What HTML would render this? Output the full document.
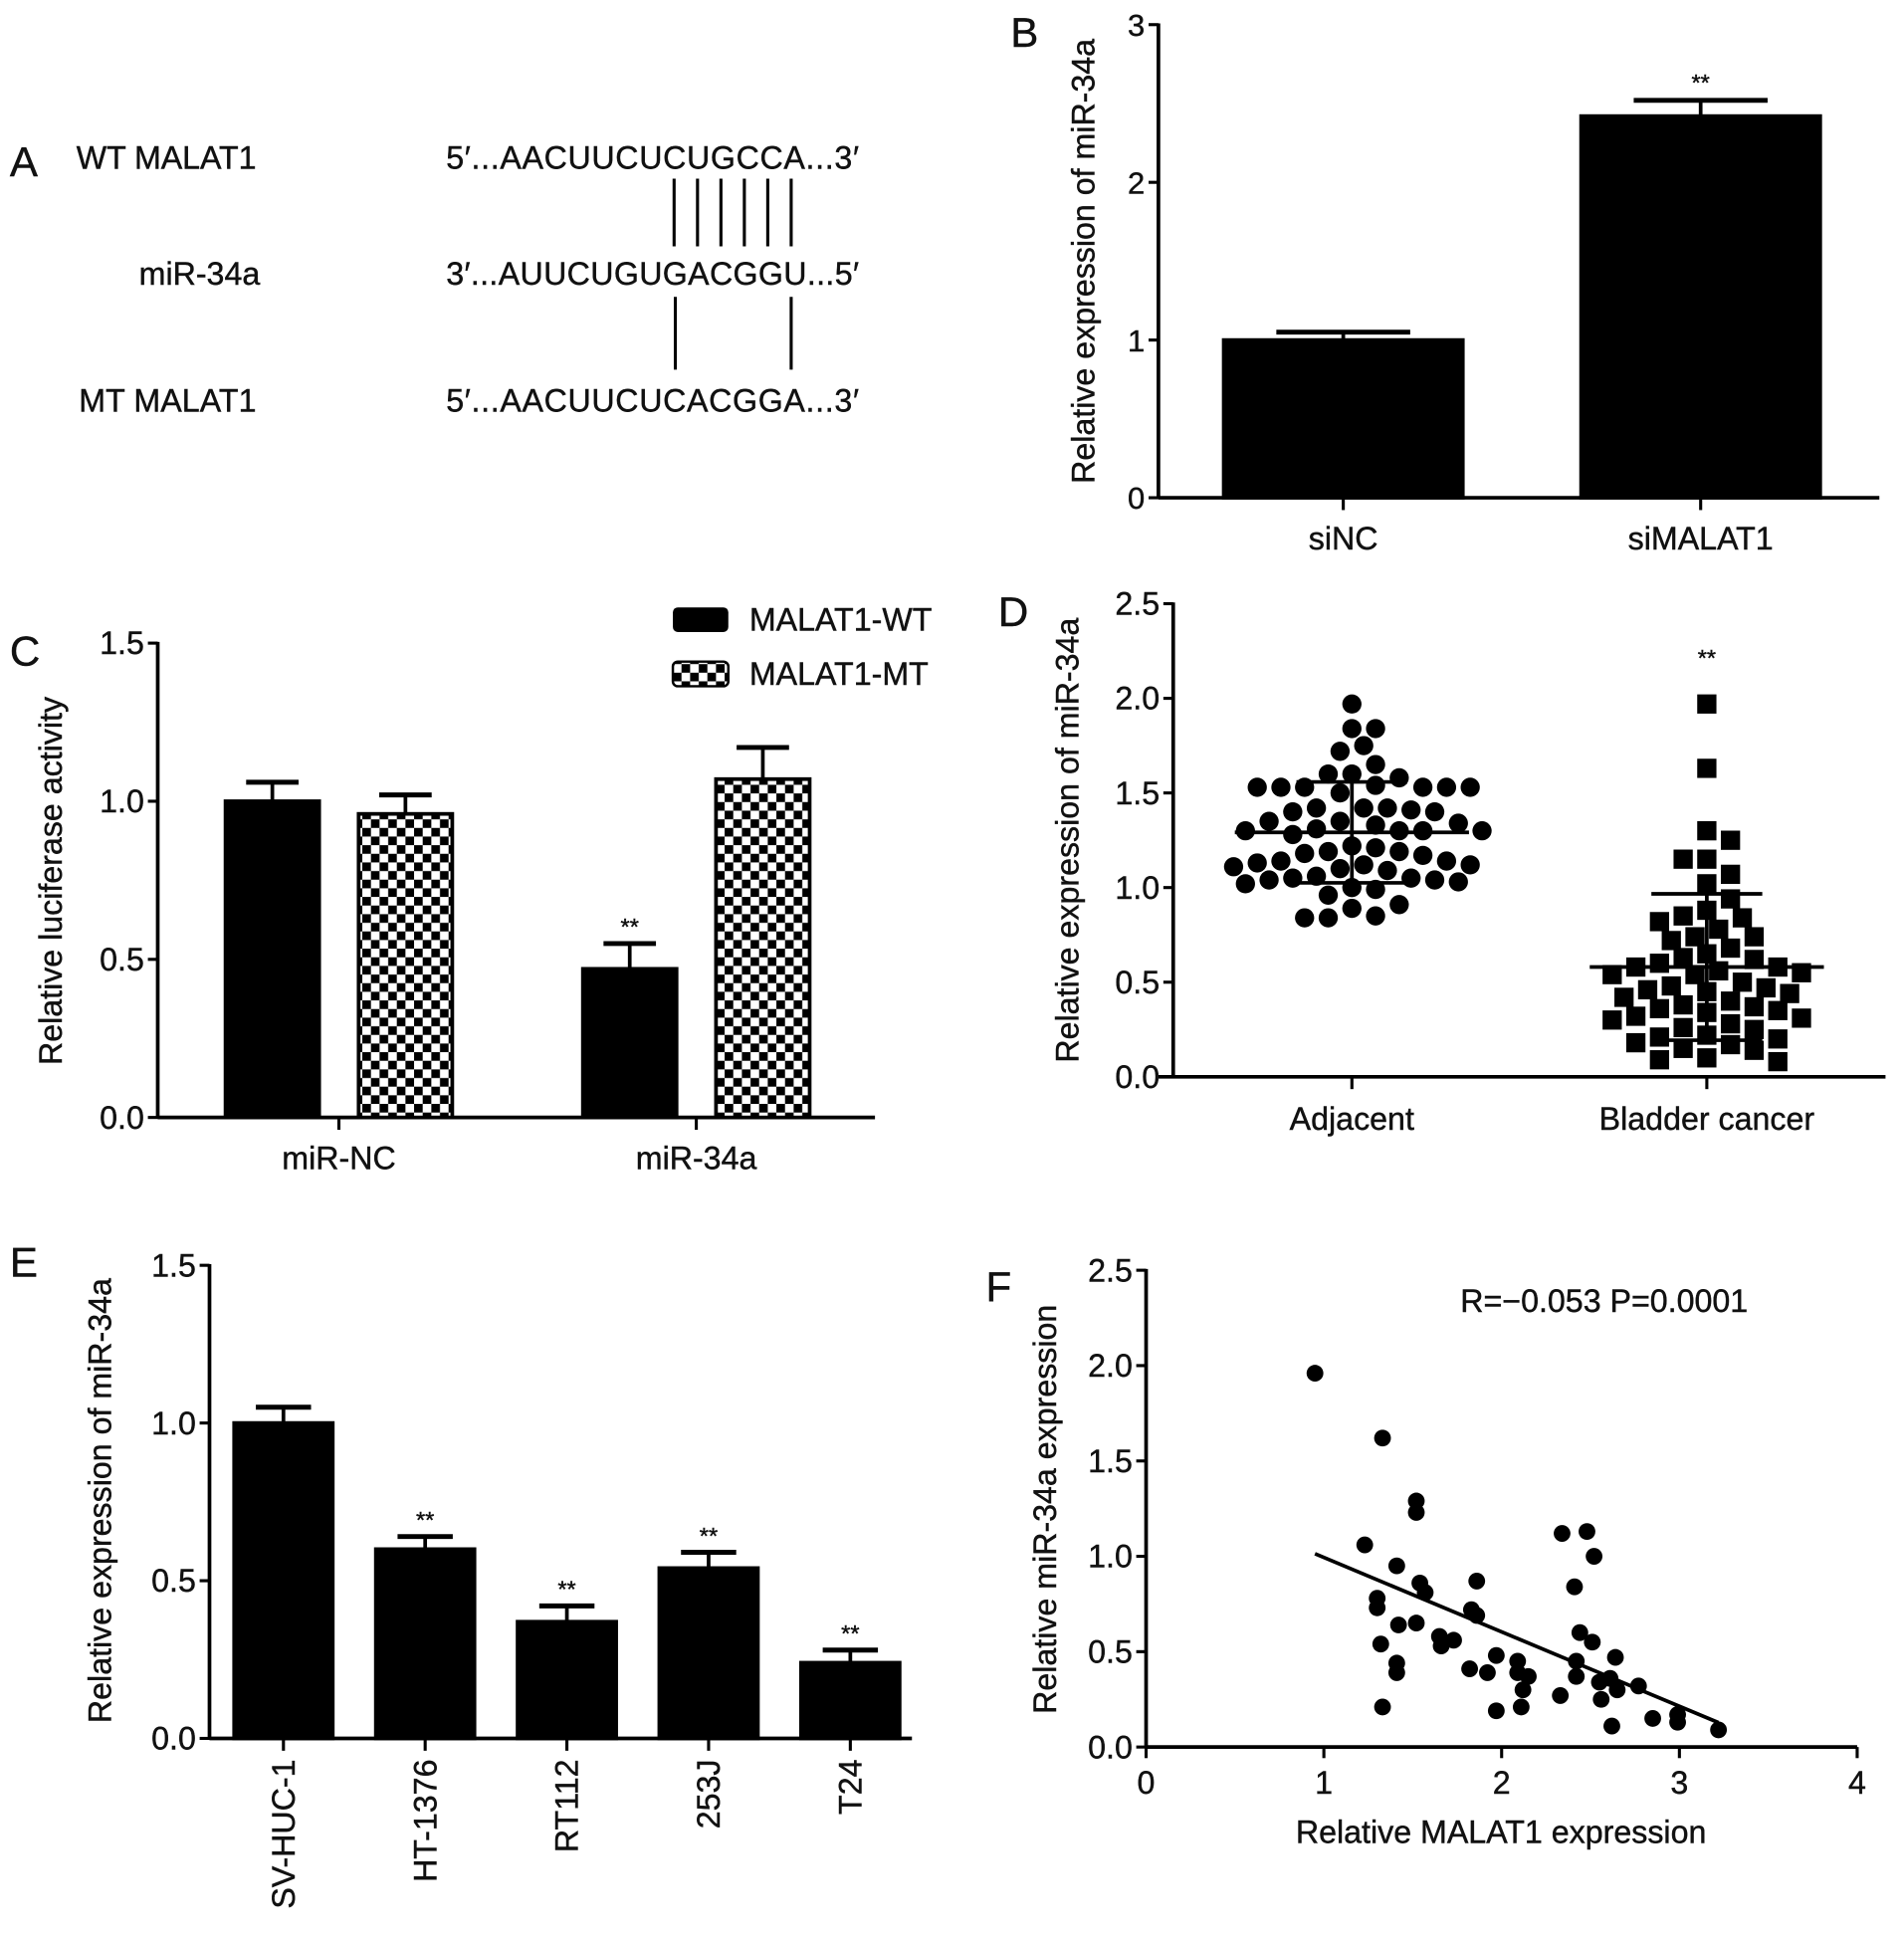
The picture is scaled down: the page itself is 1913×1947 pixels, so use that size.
<!DOCTYPE html>
<html><head><meta charset="utf-8"><style>
html,body{margin:0;padding:0;background:#fff}
svg{display:block}
text{font-family:"Liberation Sans",Arial,sans-serif;fill:#111;stroke:#111;stroke-width:0.35}
</style></head><body>
<svg id="fig" xmlns="http://www.w3.org/2000/svg" width="1913" height="1947" viewBox="0 0 1545 1573" preserveAspectRatio="none">
<defs>
<pattern id="chk" width="14" height="14" patternUnits="userSpaceOnUse">
<rect width="14" height="14" fill="#fff"/><rect width="7" height="7" fill="#000"/><rect x="7" y="7" width="7" height="7" fill="#000"/>
</pattern>
</defs>
<!-- Panel A -->
<g font-size="26">
<text x="8" y="143" font-size="34">A</text>
<text x="62" y="137" textLength="146">WT MALAT1</text>
<text x="211" y="231" text-anchor="end">miR-34a</text>
<text x="64" y="334" textLength="144">MT MALAT1</text>
<text x="362" y="137" textLength="335">5′...AACUUCUCUGCCA...3′</text>
<text x="362" y="231" textLength="335">3′...AUUCUGUGACGGU...5′</text>
<text x="362" y="334" textLength="335">5′...AACUUCUCACGGA...3′</text>
<g stroke="#000" stroke-width="2.5">
<line x1="547" y1="145" x2="547" y2="200"/><line x1="566" y1="145" x2="566" y2="200"/><line x1="585" y1="145" x2="585" y2="200"/><line x1="604" y1="145" x2="604" y2="200"/><line x1="623" y1="145" x2="623" y2="200"/><line x1="642" y1="145" x2="642" y2="200"/>
<line x1="548" y1="241" x2="548" y2="300"/><line x1="642" y1="241" x2="642" y2="300"/>
</g>
</g>
<g id="pb"></g>
<g id="pc"></g>
<g id="pd"></g>
<g id="pe"></g>
<g id="pf"></g>
</svg>
<script>
// ---- data ----
const bCats = ["siNC","siMALAT1"];
const bVals = [1.0, 2.42];
const bErrs = [0.05, 0.10];
const bTicks = [0,1,2,3];

const cCats = ["miR-NC","miR-34a"];
const cWT = [1.0, 0.47];
const cWTerr = [0.06, 0.08];
const cMT = [0.96, 1.07];
const cMTerr = [0.06, 0.10];
const cTicks = ["0.0","0.5","1.0","1.5"];

const dCats = ["Adjacent","Bladder cancer"];
const dAdjacent = [1.97,1.84,1.84,1.75,1.72,1.65,1.60,1.60,1.58,1.54,1.53,1.53,1.53,1.53,1.53,1.53,1.50,1.42,1.42,1.42,1.41,1.40,1.40,1.35,1.35,1.34,1.33,1.31,1.30,1.30,1.30,1.30,1.28,1.22,1.21,1.19,1.19,1.18,1.17,1.14,1.14,1.13,1.12,1.12,1.11,1.10,1.09,1.06,1.05,1.05,1.04,1.04,1.03,1.02,1.00,0.99,0.96,0.91,0.89,0.85,0.84,0.84];
const dCancer = [1.97,1.63,1.30,1.25,1.15,1.15,1.07,1.02,0.94,0.88,0.85,0.84,0.82,0.78,0.74,0.74,0.72,0.68,0.65,0.63,0.62,0.60,0.58,0.58,0.56,0.55,0.54,0.54,0.50,0.48,0.47,0.46,0.45,0.44,0.42,0.40,0.38,0.37,0.36,0.35,0.34,0.32,0.31,0.30,0.28,0.26,0.25,0.22,0.21,0.20,0.18,0.17,0.15,0.14,0.10,0.09,0.08];
const dTicks = ["0.0","0.5","1.0","1.5","2.0","2.5"];

const eCats = ["SV-HUC-1","HT-1376","RT112","253J","T24"];
const eVals = [1.0,0.60,0.37,0.54,0.24];
const eErrs = [0.05,0.04,0.05,0.05,0.04];
const eSig = ["","**","**","**","**"];
const eTicks = ["0.0","0.5","1.0","1.5"];

const fX = [0.95,1.33,1.23,1.41,1.30,1.30,1.52,1.52,1.54,1.57,1.42,1.52,1.32,1.41,1.41,1.33,1.65,1.66,1.73,1.86,1.83,1.86,1.82,1.92,1.97,1.97,2.09,2.09,2.12,2.11,2.15,2.34,2.48,2.41,2.52,2.44,2.51,2.42,2.42,2.33,2.55,2.56,2.61,2.64,2.65,2.62,2.77,2.85,2.99,2.99,3.22];
const fY = [1.96,1.62,1.06,0.95,0.78,0.73,1.29,1.23,0.86,0.81,0.64,0.65,0.54,0.44,0.39,0.21,0.58,0.53,0.56,0.87,0.72,0.69,0.41,0.39,0.48,0.19,0.45,0.39,0.30,0.21,0.37,1.12,1.13,0.84,1.00,0.60,0.55,0.45,0.37,0.27,0.34,0.25,0.36,0.47,0.30,0.11,0.32,0.15,0.17,0.13,0.09];
const fXTicks = [0,1,2,3,4];
const fYTicks = ["0.0","0.5","1.0","1.5","2.0","2.5"];

// ---- helpers ----
const NS="http://www.w3.org/2000/svg";
const FS=26;
function mk(parent,tag,attrs,txt){const e=document.createElementNS(NS,tag);for(const k in attrs)e.setAttribute(k,attrs[k]);if(txt!==undefined)e.textContent=txt;parent.appendChild(e);return e;}
function lin(d0,d1,r0,r1){return v=>r0+(v-d0)*(r1-r0)/(d1-d0);}

function yAxis(g,x,y,ticks,vals,fs){
  let ax=mk(g,'line',{x1:x,y1:y(vals[vals.length-1])-1,x2:x,y2:y(vals[0])+1,stroke:'#000','stroke-width':3});
  
  
  ticks.forEach((t,i)=>{
    let l=mk(g,'line',{x1:x-8,y1:y(vals[i]),x2:x,y2:y(vals[i]),stroke:'#000','stroke-width':2.5});
    
    
    let tx=mk(g,'text',{x:x-11,y:y(vals[i])+9,'text-anchor':'end','font-size':fs||FS},t);
    
    
  });
}
function yTitle(g,x,y,txt){
  let t=mk(g,'text',{x:x,y:y,'text-anchor':'middle','font-size':FS,transform:`rotate(-90 ${x} ${y})`},txt);
  
  
}
function xAxis(g,x0,x1,y){
  let a=mk(g,'line',{x1:x0,y1:y,x2:x1,y2:y,stroke:'#000','stroke-width':3});
  
  
}
function xTick(g,x,y,label,ly){
  let l=mk(g,'line',{x1:x,y1:y,x2:x,y2:y+9,stroke:'#000','stroke-width':2.5});
  
  
  if(label!==null){let t=mk(g,'text',{x:x,y:ly,'text-anchor':'middle','font-size':FS},label);
  
  }
}
function bar(g,cx,w,v,err,y,fill,name){
  let top=y(v), base=y(0);
  if(err){let e=mk(g,'line',{x1:cx,y1:y(v+err),x2:cx,y2:top,stroke:'#000','stroke-width':3});
  
  
  let c=mk(g,'line',{x1:cx-w*0.28,y1:y(v+err),x2:cx+w*0.28,y2:y(v+err),stroke:'#000','stroke-width':4});
  
  }
  let r=mk(g,'rect',{x:cx-w/2,y:top,width:w,height:base-top,fill:fill,stroke:'#000','stroke-width':3});
  
  
}
function label(g,x,y,txt,fs,name){let t=mk(g,'text',{x:x,y:y,'font-size':fs},txt);return t;}
function star(g,x,y){let t=mk(g,'text',{x:x,y:y,'text-anchor':'middle','font-size':19},'**');}

// ---- Panel B ----
(function(){
  const g=document.getElementById('pb');
  const y=lin(0,3,404,20);
  label(g,820,38,'B',34,'panel-label-b');
  yAxis(g,940,y,bTicks.map(String),bTicks,25);
  xAxis(g,940,1525,404);
  yTitle(g,888,212,'Relative expression of miR-34a');
  const xs=[1090,1380];
  bCats.forEach((c,i)=>{
    bar(g,xs[i],194,bVals[i],bErrs[i],y,'#000','bar-'+c.toLowerCase());
    xTick(g,xs[i],405,c,446);
  });
  star(g,xs[1],y(bVals[1]+bErrs[1])-8);
})();

// ---- Panel C ----
(function(){
  const g=document.getElementById('pc');
  const y=lin(0,1.5,907,522);
  label(g,8,540,'C',34,'panel-label-c');
  yAxis(g,128,y,cTicks,cTicks.map(Number));
  xAxis(g,128,710,907);
  yTitle(g,50,715,'Relative luciferase activity');
  const gx=[275,565];
  cCats.forEach((c,i)=>{
    bar(g,gx[i]-54,76,cWT[i],cWTerr[i],y,'#000','bar-wt-'+c.toLowerCase());
    bar(g,gx[i]+54,76,cMT[i],cMTerr[i],y,'url(#chk)','bar-mt-'+c.toLowerCase());
    xTick(g,gx[i],908,c,949);
  });
  star(g,gx[1]-54,y(cWT[1]+cWTerr[1])-7);
  let l1=mk(g,'rect',{x:546,y:493,width:45,height:20,rx:4,fill:'#000'});
  
  
  let l2=mk(g,'rect',{x:546,y:537,width:45,height:20,rx:4,fill:'url(#chk)',stroke:'#000','stroke-width':2});
  
  
  label(g,608,512,'MALAT1-WT',FS,'legend-entry-wt');
  label(g,608,556,'MALAT1-MT',FS,'legend-entry-mt');
})();

// ---- Panel D ----
(function(){
  const g=document.getElementById('pd');
  const y=lin(0,2.5,874,490);
  label(g,810,508,'D',34,'panel-label-d');
  yAxis(g,952,y,dTicks,dTicks.map(Number));
  xAxis(g,940,1530,874);
  yTitle(g,875,682,'Relative expression of miR-34a');
  const xs=[1097,1385];
  const sets=[dAdjacent,dCancer];
  const D=16;
  sets.forEach((arr,si)=>{
    const placed=[];
    const sorted=arr.slice().sort((a,b)=>b-a);
    sorted.forEach(v=>{
      const py=y(v);
      for(let k=0;k<40;k++){
        const off=(k%2?1:-1)*Math.ceil(k/2)*D*0.6;
        const px=xs[si]+off;
        if(placed.every(p=>Math.hypot(p[0]-px,p[1]-py)>=D)){placed.push([px,py]);break;}
      }
    });
    placed.forEach(p=>{
      let m;
      if(si===0){m=mk(g,'circle',{cx:p[0],cy:p[1],r:7.8,fill:'#000'});}
      else{m=mk(g,'rect',{x:p[0]-7.8,y:p[1]-7.8,width:15.6,height:15.6,fill:'#000'});}
      
    });
    const mean=arr.reduce((a,b)=>a+b,0)/arr.length;
    const sd=Math.sqrt(arr.reduce((a,b)=>a+(b-mean)**2,0)/(arr.length-1));
    const s='#000';
    let m1=mk(g,'line',{x1:xs[si]-95,x2:xs[si]+95,y1:y(mean),y2:y(mean),stroke:s,'stroke-width':3});
    
    
    let v1=mk(g,'line',{x1:xs[si],x2:xs[si],y1:y(mean+sd),y2:y(Math.max(0,mean-sd)),stroke:s,'stroke-width':3});
    
    
    [mean+sd,Math.max(0,mean-sd)].forEach(v=>{let c=mk(g,'line',{x1:xs[si]-45,x2:xs[si]+45,y1:y(v),y2:y(v),stroke:s,'stroke-width':3});
    
    });
    xTick(g,xs[si],875,dCats[si],917);
  });
  star(g,xs[1],y(2.17));
})();

// ---- Panel E ----
(function(){
  const g=document.getElementById('pe');
  const y=lin(0,1.5,1411,1027);
  label(g,8,1036,'E',34,'panel-label-e');
  yAxis(g,170,y,eTicks,eTicks.map(Number));
  xAxis(g,170,740,1411);
  yTitle(g,90,1218,'Relative expression of miR-34a');
  eCats.forEach((c,i)=>{
    const cx=230+i*115;
    bar(g,cx,80,eVals[i],eErrs[i],y,'#000','bar-'+c.toLowerCase());
    xTick(g,cx,1412,null,0);
    let t=mk(g,'text',{x:cx+9,y:1428,'text-anchor':'end','font-size':FS,transform:`rotate(-90 ${cx+9} 1428)`},c);
    
    
    if(eSig[i])star(g,cx,y(eVals[i]+eErrs[i])-7);
  });
})();

// ---- Panel F ----
(function(){
  const g=document.getElementById('pf');
  const x=lin(0,4,930,1507), y=lin(0,2.5,1418,1031);
  label(g,800,1056,'F',34,'panel-label-f');
  yAxis(g,930,y,fYTicks,fYTicks.map(Number));
  xAxis(g,930,1507,1418);
  fXTicks.forEach(t=>{
    let l=mk(g,'line',{x1:x(t),y1:1418,x2:x(t),y2:1427,stroke:'#000','stroke-width':2.5});
    
    
    let tx=mk(g,'text',{x:x(t),y:1456,'text-anchor':'middle','font-size':FS},String(t));
    
    
  });
  yTitle(g,857,1225,'Relative miR-34a expression');
  let xt=mk(g,'text',{x:1218,y:1496,'text-anchor':'middle','font-size':FS},'Relative MALAT1 expression');
  
  
  label(g,1185,1065,'R=−0.053  P=0.0001',FS,'correlation-annotation');
  fX.forEach((v,i)=>{
    let c=mk(g,'circle',{cx:x(v),cy:y(fY[i]),r:6.8,fill:'#000'});
    
    
  });
  const n=fX.length, mx=fX.reduce((a,b)=>a+b)/n, my=fY.reduce((a,b)=>a+b)/n;
  let sxy=0,sxx=0;fX.forEach((v,i)=>{sxy+=(v-mx)*(fY[i]-my);sxx+=(v-mx)**2;});
  const b=sxy/sxx,a=my-b*mx;
  const x0=Math.min(...fX),x1=Math.max(...fX);
  let rl=mk(g,'line',{x1:x(x0),y1:y(a+b*x0),x2:x(x1),y2:y(a+b*x1),stroke:'#000','stroke-width':3});
  
  
})();
</script>
</body></html>
